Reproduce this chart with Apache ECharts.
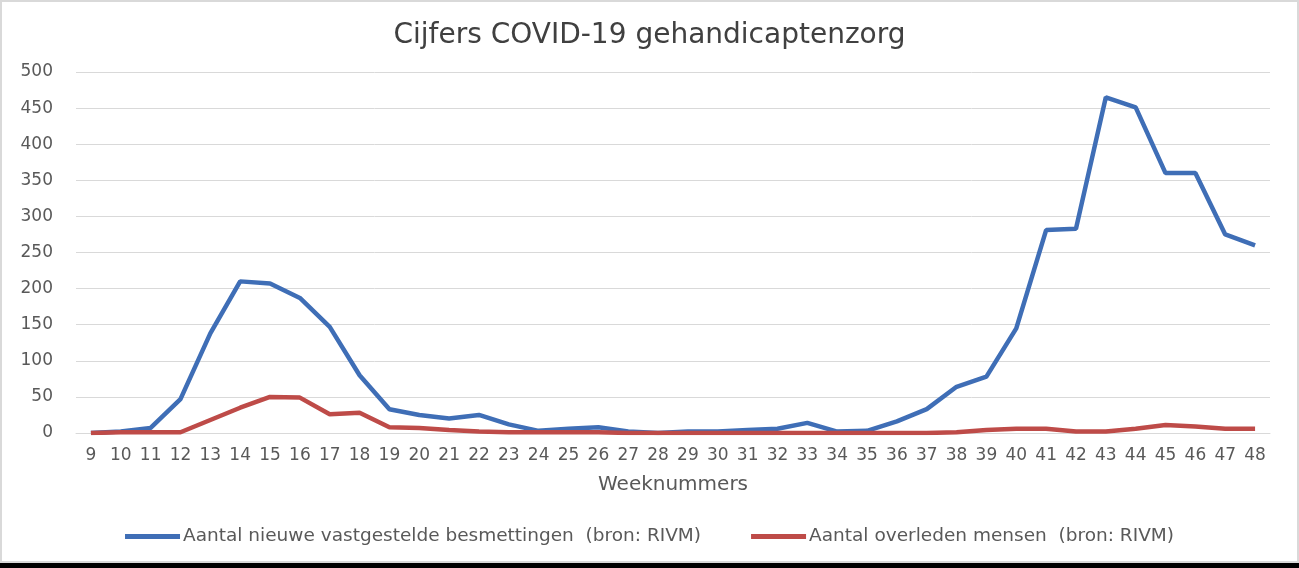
<!DOCTYPE html>
<html>
<head>
<meta charset="utf-8">
<script src="https://cdn.jsdelivr.net/npm/echarts@6/dist/echarts.min.js"></script>
<style>
html,body{margin:0;padding:0;background:#000;}
#wrap{position:absolute;left:0;top:0;width:1299px;height:563px;background:#fff;box-sizing:border-box;border:2px solid #d9d9d9;}
#chart{position:absolute;left:0;top:0;width:1299px;height:563px;}
</style>
</head>
<body>
<div id="wrap"></div>
<div id="chart"></div>
<script>
const weeks = ['9','10','11','12','13','14','15','16','17','18','19','20','21','22','23','24','25','26','27','28','29','30','31','32','33','34','35','36','37','38','39','40','41','42','43','44','45','46','47','48'];
const infections = [0,2,7,47,138,210,207,187,147,80,33,25,20,25,12,3,6,8,2,0,2,2,4,6,14,2,3,16,33,64,78,145,281,283,465,451,360,360,275,260];
const deaths = [0,1,1,1,18,35,50,49,26,28,8,7,4,2,1,1,1,1,0,0,0,0,0,0,0,0,0,0,0,1,4,6,6,2,2,6,11,9,6,6];
const yTicks = [0,50,100,150,200,250,300,350,400,450,500];
const seriesNames = ['Aantal nieuwe vastgestelde besmettingen  (bron: RIVM)','Aantal overleden mensen  (bron: RIVM)'];

const FONT = 'DejaVu Sans';
const chart = echarts.init(document.getElementById('chart'));
chart.setOption({
  backgroundColor: 'transparent',
  animation: false,
  title: {
    text: 'Cijfers COVID-19 gehandicaptenzorg',
    left: 'center', top: 17,
    textStyle: {fontFamily: FONT, fontSize: 28, fontWeight: 'normal', color: '#404040'}
  },
  legend: {
    top: 522, left: 'center',
    itemWidth: 55, itemHeight: 5, itemGap: 50,
    icon: 'rect',
    textStyle: {fontFamily: FONT, fontSize: 18.5, color: '#595959', padding: [0,0,0,-2]},
    data: seriesNames
  },
  grid: {left: 76, right: 29, top: 72, bottom: 130, containLabel: false},
  xAxis: {
    type: 'category', data: weeks, boundaryGap: true,
    name: 'Weeknummers', nameLocation: 'middle', nameGap: 42,
    nameTextStyle: {fontFamily: FONT, fontSize: 20, color: '#595959'},
    axisLine: {show: true, lineStyle: {color: '#d9d9d9', width: 1}},
    axisTick: {show: false},
    axisLabel: {fontFamily: FONT, fontSize: 17, color: '#595959', margin: 14, interval: 0}
  },
  yAxis: {
    type: 'value', min: 0, max: 500, interval: 50,
    axisLine: {show: false}, axisTick: {show: false},
    axisLabel: {fontFamily: FONT, fontSize: 17, color: '#595959', margin: 23,
      formatter: v => yTicks.includes(v) ? String(v) : ''},
    splitLine: {lineStyle: {color: '#d9d9d9', width: 1}}
  },
  series: [
    {name: seriesNames[0], type: 'line', data: infections, symbol: 'none',
     lineStyle: {width: 4.5, color: '#3F6EB6'}, itemStyle: {color: '#3F6EB6'}},
    {name: seriesNames[1], type: 'line', data: deaths, symbol: 'none',
     lineStyle: {width: 4.5, color: '#BE4B48'}, itemStyle: {color: '#BE4B48'}}
  ]
});
</script>
</body>
</html>
